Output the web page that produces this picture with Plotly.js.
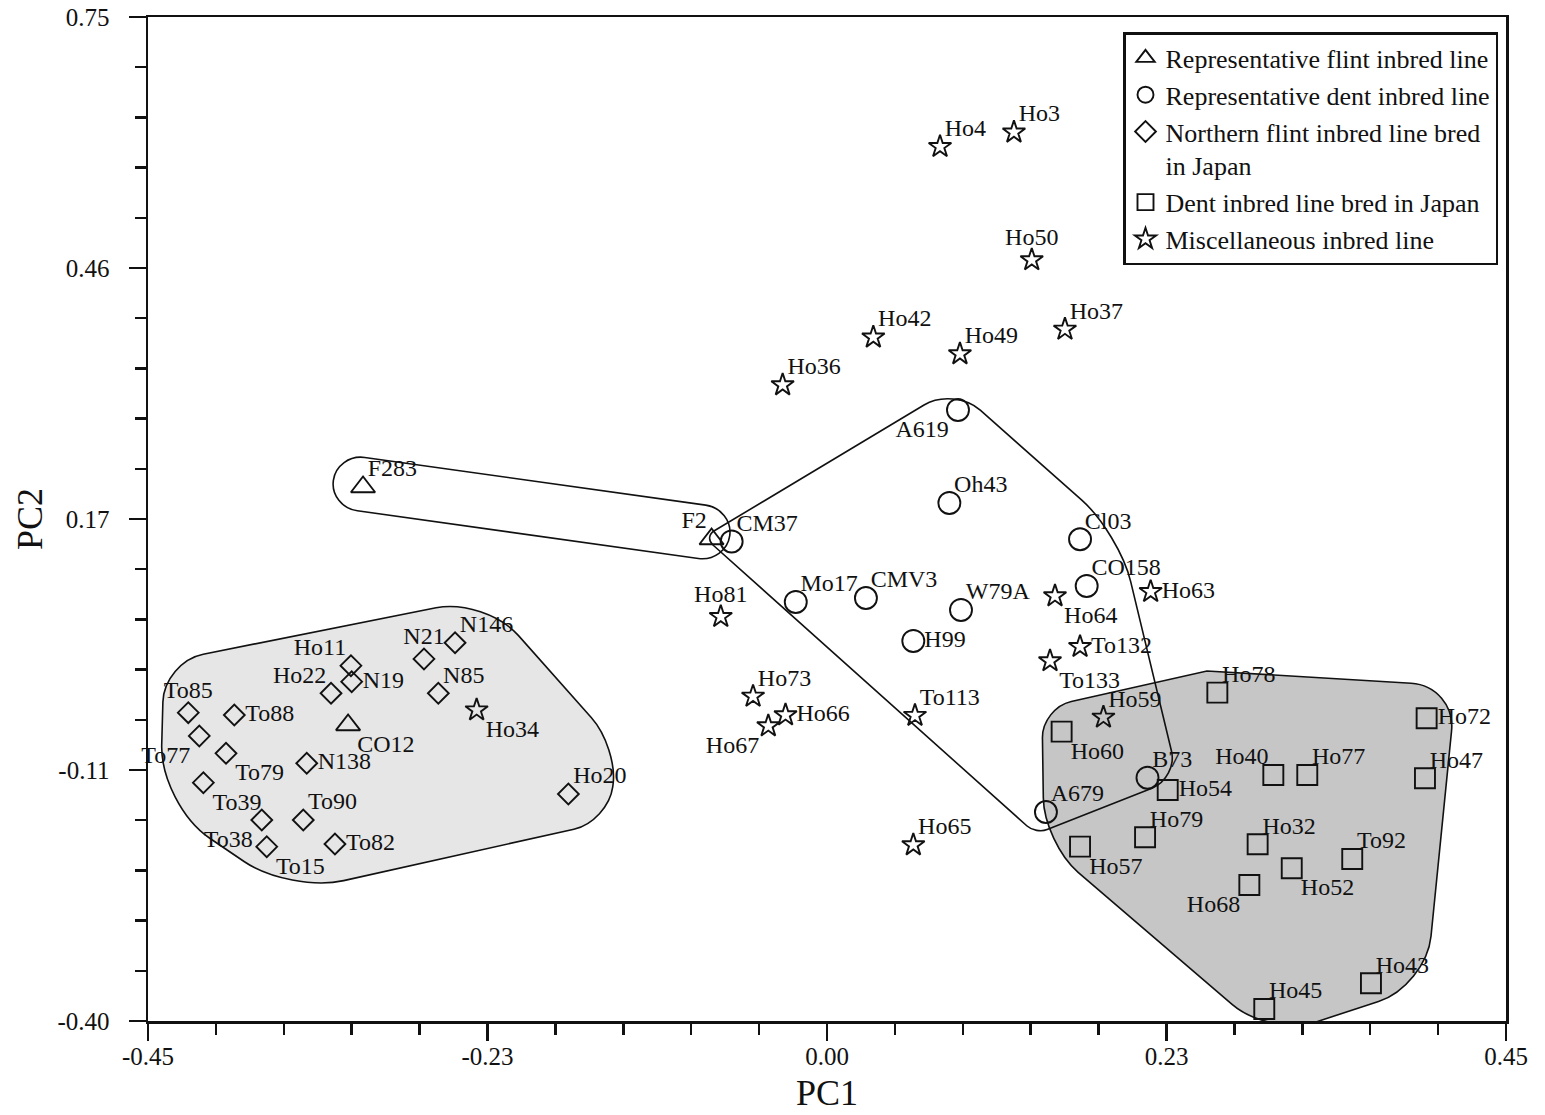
<!DOCTYPE html>
<html><head><meta charset="utf-8">
<script src="https://cdn.plot.ly/plotly-3.0.1.min.js"></script>
<style>html,body{margin:0;padding:0;background:#fff}#chart{width:1545px;height:1115px}</style>
</head><body><div id="chart"></div>
<script>
// ---------- tick labels ----------
const xTickVals = [-0.45, -0.225, 0, 0.225, 0.45];
const xTickText = ["-0.45", "-0.23", "0.00", "0.23", "0.45"];
const yTickVals = [-0.40, -0.1125, 0.175, 0.4625, 0.75];
const yTickText = ["-0.40", "-0.11", "0.17", "0.46", "0.75"];

// ---------- series names ----------
const seriesNames = [
  "Representative flint inbred line",
  "Representative dent inbred line",
  "Northern flint inbred line bred<br>in Japan",
  "Dent inbred line bred in Japan",
  "Miscellaneous inbred line"
];

// ---------- representative flint ----------
const flintNames = ["F283", "F2", "CO12"];
const flintPC1 = [-0.3075, -0.0765, -0.3174];
const flintPC2 = [0.2117, 0.1521, -0.0609];

// ---------- representative dent ----------
const dentNames = ["A619", "Oh43", "CM37", "Cl03", "CO158", "Mo17", "CMV3", "W79A", "H99", "B73", "A679"];
const dentPC1 = [0.0868, 0.0811, -0.0632, 0.1677, 0.1721, -0.0207, 0.0258, 0.0888, 0.0572, 0.2124, 0.1451];
const dentPC2 = [0.2999, 0.1934, 0.1493, 0.1518, 0.0983, 0.0800, 0.0845, 0.0708, 0.0353, -0.1213, -0.1606];

// ---------- northern flint bred in Japan ----------
const northNames = ["Ho11", "N19", "Ho22", "N21", "N146", "N85", "To85", "To88", "To77", "To79", "To39", "N138", "To38", "To90", "To15", "To82", "Ho20"];
const northPC1 = [-0.3155, -0.3150, -0.3287, -0.2671, -0.2465, -0.2576, -0.4233, -0.3928, -0.4160, -0.3983, -0.4133, -0.3448, -0.3746, -0.3471, -0.3713, -0.3261, -0.1714];
const northPC2 = [0.0070, -0.0113, -0.0246, 0.0147, 0.0333, -0.0246, -0.0468, -0.0495, -0.0735, -0.0934, -0.1270, -0.1048, -0.1698, -0.1698, -0.2003, -0.1973, -0.1400];

// ---------- dent bred in Japan ----------
const jdentNames = ["Ho78", "Ho72", "Ho60", "Ho54", "Ho40", "Ho77", "Ho47", "Ho79", "Ho57", "Ho32", "To92", "Ho52", "Ho68", "Ho43", "Ho45"];
const jdentPC1 = [0.2587, 0.3974, 0.1555, 0.2258, 0.2958, 0.3183, 0.3963, 0.2108, 0.1677, 0.2854, 0.3481, 0.3080, 0.2799, 0.3605, 0.2898];
const jdentPC2 = [-0.0239, -0.0533, -0.0686, -0.1354, -0.1182, -0.1182, -0.1220, -0.1896, -0.2003, -0.1976, -0.2144, -0.2251, -0.2442, -0.3568, -0.3863];

// ---------- miscellaneous ----------
const miscNames = ["Ho4", "Ho3", "Ho50", "Ho42", "Ho49", "Ho37", "Ho36", "Ho81", "Ho64", "Ho63", "To132", "To133", "Ho73", "Ho66", "Ho67", "To113", "Ho65", "Ho59", "Ho34"];
const miscPC1 = [0.0749, 0.1239, 0.1357, 0.0307, 0.0881, 0.1577, -0.0294, -0.0704, 0.1511, 0.2145, 0.1677, 0.1478, -0.0490, -0.0275, -0.0389, 0.0583, 0.0572, 0.1832, -0.2322];
const miscPC2 = [0.6015, 0.6180, 0.4717, 0.3832, 0.3640, 0.3923, 0.3285, 0.0631, 0.0868, 0.0918, 0.0288, 0.0124, -0.0281, -0.0495, -0.0621, -0.0501, -0.1984, -0.0521, -0.0438];

// ---------- group outlines (corner points) ----------
const northHullPC1 = [-0.4394, -0.2266, -0.1385, -0.1451, -0.3559, -0.4420];
const northHullPC2 = [0.0112, 0.0845, -0.0868, -0.1716, -0.2529, -0.1521];
const jdentHullPC1 = [0.1425, 0.2518, 0.4169, 0.3970, 0.2936, 0.1438];
const jdentHullPC2 = [-0.0415, 0.0009, -0.0163, -0.3599, -0.4183, -0.1961];
const flintHullPC1 = [-0.3247, -0.0620, -0.0669, -0.3296];
const flintHullPC2 = [0.2499, 0.1865, 0.1253, 0.1888];
const dentHullPC1 = [-0.0815, 0.0842, 0.1935, 0.2326, 0.1385];
const dentHullPC2 = [0.1544, 0.3262, 0.1590, -0.1216, -0.1858];

// ---------- styles ----------
const FONT = "Liberation Serif, Times New Roman, serif";
const INK = "#111111";
const X_RANGE = [-0.45, 0.45], Y_RANGE = [-0.40, 0.75];
const W = 1545, H = 1115, M = {l: 148, r: 39, t: 17, b: 94};
const KX = (W - M.l - M.r) / (X_RANGE[1] - X_RANGE[0]);
const KY = (H - M.t - M.b) / (Y_RANGE[1] - Y_RANGE[0]);

const flintPos = ["top right", "top left", "bottom right"];
const dentPos = ["bottom left", "top right", "top right", "top right", "top right", "top right", "top right", "top right", "middle right", "top right", "top right"];
const northPos = ["top left", "middle right", "top left", "top center", "top right", "top right", "top center", "middle right", "bottom left", "bottom right", "bottom right", "middle right", "bottom left", "top right", "bottom right", "middle right", "top right"];
const jdentPos = ["top right", "middle right", "bottom right", "middle right", "top left", "top right", "top right", "top right", "bottom right", "top right", "top right", "bottom right", "bottom left", "top right", "top right"];
const miscPos = ["top right", "top right", "top center", "top right", "top right", "top right", "top right", "top center", "bottom right", "middle right", "middle right", "bottom right", "top right", "middle right", "bottom left", "top right", "top right", "top right", "bottom right"];

// invisible spacer size that sets how far a label sits from its point
function labelGap(pos) {
  if (pos === "top center") return 13;
  if (pos.indexOf("middle") === 0) return 16;
  if (pos.indexOf("bottom") === 0) return 13;
  return 6;
}

const groups = [
  {name: seriesNames[0], x: flintPC1, y: flintPC2, t: flintNames, pos: flintPos, sym: "triangle-up-open", size: 21},
  {name: seriesNames[1], x: dentPC1, y: dentPC2, t: dentNames, pos: dentPos, sym: "circle-open", size: 22},
  {name: seriesNames[2], x: northPC1, y: northPC2, t: northNames, pos: northPos, sym: "diamond-open", size: 16},
  {name: seriesNames[3], x: jdentPC1, y: jdentPC2, t: jdentNames, pos: jdentPos, sym: "square-open", size: 20},
  {name: seriesNames[4], x: miscPC1, y: miscPC2, t: miscNames, pos: miscPos, sym: "star-open", size: 17}
];

const traces = [];
groups.forEach(g => {
  traces.push({
    type: "scatter", mode: "markers", name: g.name, x: g.x, y: g.y,
    marker: {symbol: g.sym, size: g.size, color: INK, line: {width: 1.9, color: INK}},
    hoverinfo: "skip", cliponaxis: false
  });
});
groups.forEach(g => {
  traces.push({
    type: "scatter", mode: "markers+text", showlegend: false, x: g.x, y: g.y, text: g.t,
    textposition: g.pos, textfont: {family: FONT, size: 24, color: INK},
    marker: {symbol: "circle", size: g.pos.map(labelGap), color: "rgba(0,0,0,0)", line: {width: 0, color: "rgba(0,0,0,0)"}},
    hoverinfo: "skip", cliponaxis: false
  });
});

// rounded outline through corner points (cubic corners, radius in screen px)
function roundedPath(xs, ys, radii) {
  const n = xs.length, k = 0.5523; let d = "";
  for (let i = 0; i < n; i++) {
    const p = (i - 1 + n) % n, q = (i + 1) % n;
    const vx = xs[i], vy = ys[i];
    const la = Math.hypot((xs[p] - vx) * KX, (ys[p] - vy) * KY);
    const lb = Math.hypot((xs[q] - vx) * KX, (ys[q] - vy) * KY);
    const ra = Math.min(radii[i], la / 2) / la, rb = Math.min(radii[i], lb / 2) / lb;
    const ax = vx + (xs[p] - vx) * ra, ay = vy + (ys[p] - vy) * ra;
    const bx = vx + (xs[q] - vx) * rb, by = vy + (ys[q] - vy) * rb;
    const c1x = ax + (vx - ax) * k, c1y = ay + (vy - ay) * k;
    const c2x = bx + (vx - bx) * k, c2y = by + (vy - by) * k;
    d += (i === 0 ? "M" : "L") + ax + "," + ay + " C" + c1x + "," + c1y + " " + c2x + "," + c2y + " " + bx + "," + by + " ";
  }
  return d + "Z";
}

const shapes = [
  {type: "path", xref: "x", yref: "y", layer: "below", path: roundedPath(northHullPC1, northHullPC2, [40, 50, 40, 35, 55, 60]),
   fillcolor: "#e6e6e6", line: {color: INK, width: 1.6}},
  {type: "path", xref: "x", yref: "y", layer: "below", path: roundedPath(jdentHullPC1, jdentHullPC2, [30, 0, 45, 50, 50, 45]),
   fillcolor: "#c6c6c6", line: {color: INK, width: 1.6}},
  {type: "path", xref: "x", yref: "y", layer: "below", path: roundedPath(flintHullPC1, flintHullPC2, [28, 28, 28, 28]),
   fillcolor: "rgba(0,0,0,0)", line: {color: INK, width: 1.6}},
  {type: "path", xref: "x", yref: "y", layer: "below", path: roundedPath(dentHullPC1, dentHullPC2, [12, 35, 50, 28, 12]),
   fillcolor: "rgba(0,0,0,0)", line: {color: INK, width: 1.6}}
];

const axisCommon = {
  ticks: "outside", ticklen: 17, tickwidth: 2.5, tickcolor: INK,
  showline: true, linewidth: 2.5, linecolor: INK, mirror: true,
  showgrid: false, zeroline: false, tickfont: {family: FONT, size: 25, color: INK}
};

const layout = {
  width: W, height: H, margin: M,
  paper_bgcolor: "#ffffff", plot_bgcolor: "#ffffff",
  font: {family: FONT, color: INK},
  showlegend: true,
  xaxis: Object.assign({}, axisCommon, {
    range: X_RANGE, tickmode: "array", tickvals: xTickVals, ticktext: xTickText,
    ticklabelstandoff: -6,
    title: {text: "PC1", font: {family: FONT, size: 36, color: INK}, standoff: 12},
    minor: {tickmode: "linear", tick0: -0.45, dtick: 0.045, ticks: "outside", ticklen: 11, tickwidth: 2.5, tickcolor: INK, showgrid: false}
  }),
  yaxis: Object.assign({}, axisCommon, {
    range: Y_RANGE, tickmode: "array", tickvals: yTickVals, ticktext: yTickText,
    ticklabelstandoff: 14,
    title: {text: "PC2", font: {family: FONT, size: 36, color: INK}, standoff: 4},
    minor: {tickmode: "linear", tick0: -0.40, dtick: 0.0575, ticks: "outside", ticklen: 11, tickwidth: 2.5, tickcolor: INK, showgrid: false}
  }),
  legend: {
    x: (1498 - M.l) / (W - M.l - M.r), xanchor: "right",
    y: (H - M.b - 32) / (H - M.t - M.b), yanchor: "top",
    bgcolor: "#ffffff", bordercolor: INK, borderwidth: 2.5,
    font: {family: FONT, size: 26, color: INK}, valign: "top", tracegroupgap: 0
  },
  shapes: shapes
};

Plotly.newPlot("chart", traces, layout, {staticPlot: true, displayModeBar: false});
</script>
</body></html>
